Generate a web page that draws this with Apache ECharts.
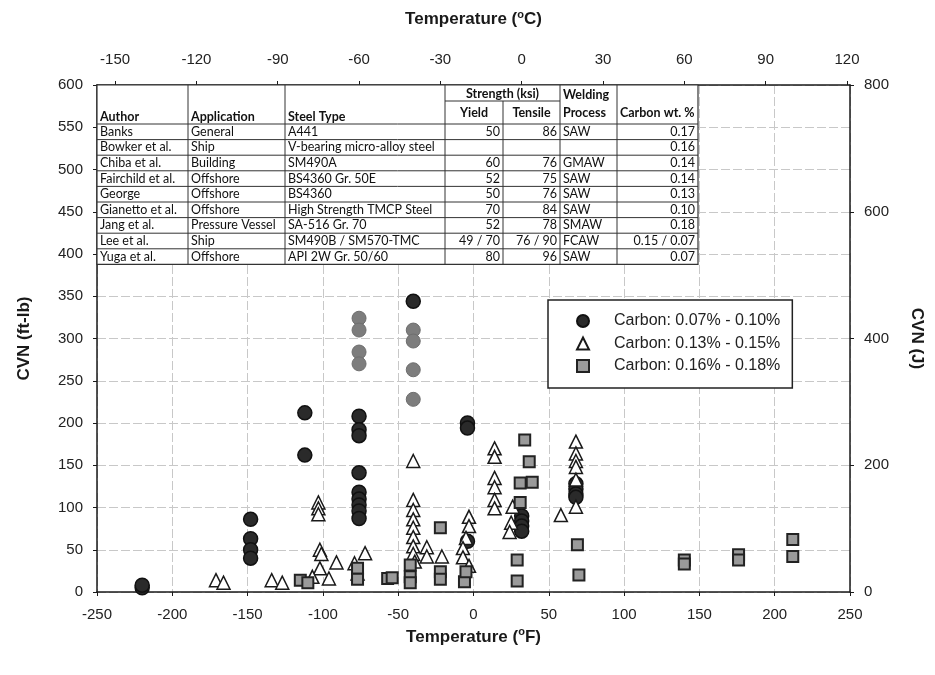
<!DOCTYPE html>
<html>
<head>
<meta charset="utf-8">
<script src="https://cdn.jsdelivr.net/npm/echarts@6/dist/echarts.min.js"></script>
<style>html,body{margin:0;padding:0;background:#fff;}#chart{width:935px;height:675px;}</style>
</head>
<body>
<div id="chart"></div>
<script>
// ---------------- data ----------------
const seriesNames = ['Carbon: 0.07% - 0.10%', 'Carbon: 0.13% - 0.15%', 'Carbon: 0.16% - 0.18%'];

// [temperature °F, CVN ft-lb]
const circleDark = [
  [-220, 5], [-220, 8],
  [-148, 86], [-148, 63], [-148, 50], [-148, 40],
  [-112, 212], [-112, 162],
  [-76, 208], [-76, 192], [-76, 185], [-76, 141], [-76, 118], [-76, 110], [-76, 103], [-76, 96], [-76, 87],
  [-40, 344],
  [-4, 200], [-4, 194], [-4, 60],
  [32, 90], [32, 84], [32, 78], [32, 72],
  [68, 128], [68, 122], [68, 116], [68, 112]
];
const circleGray = [
  [-76, 324], [-76, 310], [-76, 284], [-76, 270],
  [-40, 310], [-40, 297], [-40, 263], [-40, 228]
];
const triangles = [
  [-171, 14], [-166, 11],
  [-134, 14], [-127, 11],
  [-103, 106], [-103, 99], [-103, 92],
  [-102, 50], [-101, 45], [-102, 28], [-91, 35], [-96, 16], [-107, 18],
  [-72, 46], [-79, 34], [-77, 22],
  [-40, 155], [-40, 109], [-40, 97], [-40, 86], [-40, 76], [-40, 65], [-40, 54], [-40, 45], [-39, 36],
  [-31, 53], [-31, 42], [-21, 42],
  [-3, 89], [-3, 78], [-5, 64], [-7, 52], [-7, 41], [-3, 31],
  [14, 170], [14, 160], [14, 135], [14, 124], [14, 109], [14, 99],
  [26, 101], [25, 82], [24, 71],
  [58, 91],
  [68, 178], [68, 164], [68, 155], [68, 148], [68, 133], [68, 101]
];
const squares = [
  [-115, 14], [-110, 11],
  [-77, 28], [-77, 15],
  [-57, 16], [-54, 17],
  [-42, 32], [-42, 18], [-42, 11],
  [-22, 76], [-22, 24], [-22, 15],
  [-6, 12], [-5, 24],
  [34, 180], [37, 154], [31, 129], [39, 130], [31, 106], [29, 38], [29, 13],
  [69, 56], [70, 20],
  [140, 38], [140, 33],
  [176, 44], [176, 38],
  [212, 62], [212, 42]
];

// axis ticks
const celsiusTicks = [-150, -120, -90, -60, -30, 0, 30, 60, 90, 120];

// table
const tableHeader = ['Author', 'Application', 'Steel Type'];
const tableAuthors = ['Banks', 'Bowker et al.', 'Chiba et al.', 'Fairchild et al.', 'George', 'Gianetto et al.', 'Jang et al.', 'Lee et al.', 'Yuga et al.'];
const tableApps = ['General', 'Ship', 'Building', 'Offshore', 'Offshore', 'Offshore', 'Pressure Vessel', 'Ship', 'Offshore'];
const tableSteel = ['A441', 'V-bearing micro-alloy steel', 'SM490A', 'BS4360 Gr. 50E', 'BS4360', 'High Strength TMCP Steel', 'SA-516 Gr. 70', 'SM490B / SM570-TMC', 'API 2W Gr. 50/60'];
const tableYield = ['50', '', '60', '52', '50', '70', '52', '49 / 70', '80'];
const tableTensile = ['86', '', '76', '75', '76', '84', '78', '76 / 90', '96'];
const tableWeld = ['SAW', '', 'GMAW', 'SAW', 'SAW', 'SAW', 'SMAW', 'FCAW', 'SAW'];
const tableCarbon = ['0.17', '0.16', '0.14', '0.14', '0.13', '0.10', '0.18', '0.15 / 0.07', '0.07'];

// ---------------- layout / style ----------------
const FONT = 'Liberation Sans';
const TFONT = 'Lato';
const F2C = f => (f - 32) * 5 / 9;
const xMinF = -250, xMaxF = 250;

const chart = echarts.init(document.getElementById('chart'), null, {renderer: 'canvas'});

const gridSplit = {show: true, lineStyle: {color: '#c8c8c8', width: 1, type: [9, 3]}};
const axisLineStyle = {show: true, onZero: false, lineStyle: {color: '#1a1a1a', width: 1.5}};
const labelStyle = {fontFamily: FONT, fontSize: 15, color: '#222'};
const nameStyle = {
  fontFamily: FONT, fontSize: 17, fontWeight: 'bold', color: '#1a1a1a',
  rich: {s: {fontFamily: FONT, fontSize: 11, fontWeight: 'bold', color: '#1a1a1a', verticalAlign: 'top', padding: [0, 0, 9, 0]}}
};

function buildTable() {
  const cols = [97, 188, 285, 445, 503, 560, 617, 698];
  const top = 85, headBottom = 124, strengthY = 101, rowH = 15.6;
  const n = tableAuthors.length;
  const bottom = headBottom + rowH * n;
  const L = cols[0], R = cols[cols.length - 1];
  const els = [];
  const Z = 100;
  const lineSt = {stroke: '#333', lineWidth: 1};
  els.push({type: 'rect', z: Z, shape: {x: L, y: top, width: R - L, height: bottom - top}, style: {fill: '#fff', stroke: '#333', lineWidth: 1.2}});
  for (let i = 1; i < cols.length - 1; i++) {
    const y0 = (i === 4) ? strengthY : top;
    els.push({type: 'line', z: Z + 1, shape: {x1: cols[i], y1: y0, x2: cols[i], y2: bottom}, style: lineSt});
  }
  els.push({type: 'line', z: Z + 1, shape: {x1: cols[3], y1: strengthY, x2: cols[5], y2: strengthY}, style: lineSt});
  for (let r = 0; r < n; r++) {
    const y = headBottom + r * rowH;
    els.push({type: 'line', z: Z + 1, shape: {x1: L, y1: y, x2: R, y2: y}, style: lineSt});
  }
  const txt = (t, x, y, align, bold) => ({
    type: 'text', z: Z + 2, x: x, y: y,
    style: {text: t, font: (bold ? 'bold ' : '') + '12.5px ' + TFONT, fill: '#111',
      textAlign: align, textVerticalAlign: 'middle', align: align, verticalAlign: 'middle'}
  });
  const hy = headBottom - 7;
  els.push(txt(tableHeader[0], cols[0] + 3, hy, 'left', true));
  els.push(txt(tableHeader[1], cols[1] + 3, hy, 'left', true));
  els.push(txt(tableHeader[2], cols[2] + 3, hy, 'left', true));
  els.push(txt('Strength (ksi)', (cols[3] + cols[5]) / 2, (top + strengthY) / 2 + 1, 'center', true));
  els.push(txt('Yield', (cols[3] + cols[4]) / 2, (strengthY + headBottom) / 2, 'center', true));
  els.push(txt('Tensile', (cols[4] + cols[5]) / 2, (strengthY + headBottom) / 2, 'center', true));
  els.push(txt('Welding', cols[5] + 3, (top + strengthY) / 2 + 2, 'left', true));
  els.push(txt('Process', cols[5] + 3, (strengthY + headBottom) / 2, 'left', true));
  els.push(txt('Carbon wt. %', cols[6] + 3, (strengthY + headBottom) / 2, 'left', true));
  for (let r = 0; r < n; r++) {
    const cy = headBottom + r * rowH + rowH / 2;
    els.push(txt(tableAuthors[r], cols[0] + 3, cy, 'left'));
    els.push(txt(tableApps[r], cols[1] + 3, cy, 'left'));
    els.push(txt(tableSteel[r], cols[2] + 3, cy, 'left'));
    els.push(txt(tableYield[r], cols[4] - 3, cy, 'right'));
    els.push(txt(tableTensile[r], cols[5] - 3, cy, 'right'));
    els.push(txt(tableWeld[r], cols[5] + 3, cy, 'left'));
    els.push(txt(tableCarbon[r], cols[7] - 3, cy, 'right'));
  }
  return els;
}

const option = {
  animation: false,
  backgroundColor: '#fff',
  grid: {left: 97, right: 85, top: 85, bottom: 83},
  xAxis: [
    {
      type: 'value', position: 'bottom', min: xMinF, max: xMaxF, interval: 50,
      axisLine: axisLineStyle, axisTick: {show: true, length: 4, lineStyle: {color: '#1a1a1a'}},
      axisLabel: Object.assign({margin: 15}, labelStyle),
      splitLine: gridSplit,
      name: 'Temperature ({s|o}F)', nameLocation: 'middle', nameGap: 27, nameTextStyle: nameStyle
    },
    {
      type: 'value', position: 'top', min: F2C(xMinF), max: F2C(xMaxF),
      axisLine: axisLineStyle,
      axisTick: {show: true, length: 4, lineStyle: {color: '#1a1a1a'}, customValues: celsiusTicks},
      axisLabel: Object.assign({margin: 18, customValues: celsiusTicks}, labelStyle),
      splitLine: {show: false},
      name: 'Temperature ({s|o}C)', nameLocation: 'middle', nameGap: 56, nameTextStyle: nameStyle
    }
  ],
  yAxis: [
    {
      type: 'value', position: 'left', min: 0, max: 600, interval: 50,
      axisLine: axisLineStyle, axisTick: {show: true, length: 4, lineStyle: {color: '#1a1a1a'}},
      axisLabel: Object.assign({margin: 14}, labelStyle),
      splitLine: gridSplit,
      name: 'CVN (ft-lb)', nameLocation: 'middle', nameGap: 64, nameRotate: 90, nameTextStyle: nameStyle
    },
    {
      type: 'value', position: 'right', min: 0, max: 800, interval: 200,
      axisLine: axisLineStyle, axisTick: {show: true, length: 4, lineStyle: {color: '#1a1a1a'}},
      axisLabel: Object.assign({margin: 14}, labelStyle),
      splitLine: {show: false},
      name: 'CVN (J)', nameLocation: 'middle', nameGap: 58, nameRotate: -90, nameTextStyle: nameStyle
    }
  ],
  legend: {
    data: seriesNames,
    left: 548, top: 300, orient: 'vertical',
    backgroundColor: '#fff', borderColor: '#222', borderWidth: 1.5, borderRadius: 0,
    padding: [12, 12, 13, 28],
    itemWidth: 12, itemHeight: 12, itemGap: 4.5,
    selectedMode: false,
    textStyle: {fontFamily: FONT, fontSize: 16, color: '#222', padding: [0, 0, 0, 20], lineHeight: 18}
  },
  series: [
    {
      name: seriesNames[0] + ' ', type: 'scatter', xAxisIndex: 0, yAxisIndex: 0,
      symbol: 'circle', symbolSize: 14, data: circleGray,
      itemStyle: {color: '#7d7d7d', borderColor: '#6e6e6e', borderWidth: 1, opacity: 1}
    },
    {
      name: seriesNames[0], type: 'scatter', xAxisIndex: 0, yAxisIndex: 0,
      symbol: 'circle', symbolSize: 14, data: circleDark,
      itemStyle: {color: '#2a2a2a', borderColor: '#111', borderWidth: 1.5, opacity: 1}
    },
    {
      name: seriesNames[1], type: 'scatter', xAxisIndex: 0, yAxisIndex: 0,
      symbol: 'triangle', symbolSize: 13, data: triangles,
      itemStyle: {color: '#fff', borderColor: '#1a1a1a', borderWidth: 1.5, opacity: 1}
    },
    {
      name: seriesNames[2], type: 'scatter', xAxisIndex: 0, yAxisIndex: 0,
      symbol: 'rect', symbolSize: 11, data: squares,
      itemStyle: {color: '#9a9a9a', borderColor: '#222', borderWidth: 2, opacity: 1}
    }
  ],
  graphic: buildTable()
};
chart.setOption(option);
</script>
</body>
</html>
